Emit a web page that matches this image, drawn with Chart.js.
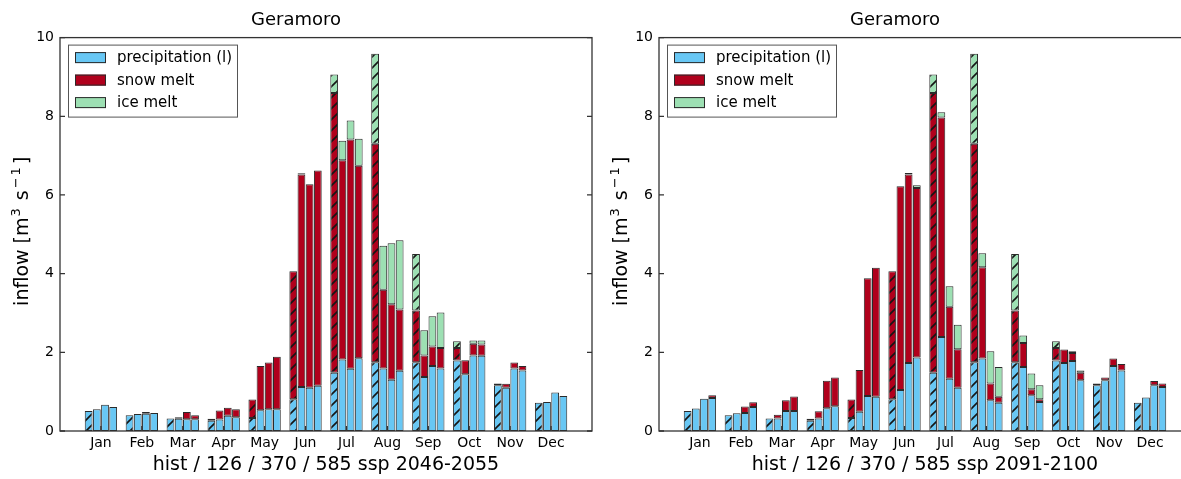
<!DOCTYPE html>
<html>
<head>
<meta charset="utf-8">
<script src="https://cdn.jsdelivr.net/npm/chart.js@4.4.1/dist/chart.umd.min.js"></script>
<style>
  html, body { margin: 0; padding: 0; background: #fff; overflow: hidden; width: 1181px; height: 479px; }
  canvas { position: absolute; top: 0; }
  #left { left: 0; }
  #right { left: 599px; }
</style>
</head>
<body>
<canvas id="left" width="600" height="479"></canvas>
<canvas id="right" width="600" height="479"></canvas>
<script>
const months = ['Jan', 'Feb', 'Mar', 'Apr', 'May', 'Jun', 'Jul', 'Aug', 'Sep', 'Oct', 'Nov', 'Dec']

// historical run (same in both panels)
const precipHist = [0.51, 0.40, 0.32, 0.26, 0.33, 0.81, 1.48, 1.75, 1.75, 1.79, 1.16, 0.72]
const snowHist   = [0, 0, 0, 0.05, 0.47, 3.25, 7.11, 5.55, 1.31, 0.32, 0.05, 0]
const iceHist    = [0, 0, 0, 0, 0, 0, 0.47, 2.29, 1.44, 0.17, 0, 0]

// ssp 2046-2055
const precip126a = [0.55, 0.43, 0.31, 0.29, 0.53, 1.12, 1.82, 1.59, 1.37, 1.44, 1.10, 0.74]
const snow126a   = [0, 0, 0.04, 0.23, 1.12, 5.40, 5.06, 2.00, 0.55, 0.36, 0.10, 0]
const ice126a    = [0, 0, 0, 0, 0, 0.03, 0.50, 1.12, 0.64, 0, 0, 0]
const precip370a = [0.67, 0.44, 0.30, 0.39, 0.55, 1.10, 1.58, 1.30, 1.65, 1.92, 1.59, 0.98]
const snow370a   = [0, 0.04, 0.18, 0.20, 1.19, 5.17, 5.83, 1.92, 0.50, 0.30, 0.15, 0]
const ice370a    = [0, 0, 0, 0, 0, 0, 0.48, 1.55, 0.77, 0.08, 0, 0]
const precip585a = [0.61, 0.46, 0.30, 0.35, 0.55, 1.15, 1.85, 1.53, 1.59, 1.91, 1.54, 0.89]
const snow585a   = [0, 0, 0.10, 0.20, 1.34, 5.47, 4.89, 1.56, 0.52, 0.29, 0.11, 0]
const ice585a    = [0, 0, 0, 0, 0, 0, 0.69, 1.76, 0.90, 0.10, 0, 0]

// ssp 2091-2100
const precip126b = [0.57, 0.45, 0.32, 0.32, 0.49, 1.04, 2.39, 1.84, 1.63, 1.73, 1.29, 0.85]
const snow126b   = [0, 0, 0.09, 0.18, 1.06, 5.18, 5.58, 2.32, 0.61, 0.34, 0.07, 0]
const ice126b    = [0, 0, 0, 0, 0, 0, 0.13, 0.36, 0.19, 0, 0, 0]
const precip370b = [0.82, 0.46, 0.51, 0.58, 0.89, 1.73, 1.33, 0.78, 0.91, 1.78, 1.65, 1.16]
const snow370b   = [0, 0.16, 0.27, 0.70, 2.99, 4.79, 1.83, 0.43, 0.15, 0.20, 0.19, 0.11]
const ice370b    = [0, 0, 0, 0, 0, 0.04, 0.52, 0.82, 0.40, 0.05, 0, 0]
const precip585b = [0.84, 0.61, 0.51, 0.63, 0.87, 1.87, 1.10, 0.72, 0.74, 1.29, 1.54, 1.12]
const snow585b   = [0.07, 0.12, 0.37, 0.73, 3.28, 4.31, 0.98, 0.15, 0.07, 0.19, 0.16, 0.09]
const ice585b    = [0, 0, 0, 0, 0, 0.07, 0.62, 0.76, 0.35, 0.06, 0, 0]

const FONT = '"DejaVu Sans", "Liberation Sans", sans-serif'
const colors = { precip: '#68c7f4', snow: '#b0001c', ice: '#9de0b3' }
const edge = '#2a2a2a'
const offsets = [-0.3, -0.1, 0.1, 0.3]

function hatch(ctx, color) {
    const c = document.createElement('canvas')
    c.width = 11
    c.height = 11
    const g = c.getContext('2d')
    g.fillStyle = color
    g.fillRect(0, 0, 11, 11)
    g.strokeStyle = '#151515'
    g.lineWidth = 1.6
    g.beginPath()
    g.moveTo(-2, 13); g.lineTo(13, -2)
    g.moveTo(-2, 2); g.lineTo(2, -2)
    g.moveTo(9, 13); g.lineTo(13, 9)
    g.stroke()
    return ctx.createPattern(c, 'repeat')
}

function points(series) {
    const out = []
    months.forEach((m, i) => {
        series.forEach((arr, k) => {
            out.push({ x: i + 1 + offsets[k], y: arr[i] ? arr[i] : null })
        })
    })
    return out
}

function fills(ctx, color) {
    const pat = hatch(ctx, color)
    return months.flatMap(() => [pat, color, color, color])
}

const framePlugin = {
    id: 'frame_and_legend',
    afterDatasetsDraw: (chart) => {
        const { ctx, chartArea: a, scales: { x, y } } = chart
        ctx.save()
        ctx.strokeStyle = '#333'
        ctx.lineWidth = 1.3
        ctx.strokeRect(a.left, a.top, a.right - a.left, a.bottom - a.top)
        ctx.beginPath()
        for (const t of y.ticks) {
            const py = y.getPixelForValue(t.value)
            ctx.moveTo(a.left, py); ctx.lineTo(a.left + 5, py)
            ctx.moveTo(a.right, py); ctx.lineTo(a.right - 5, py)
        }
        for (const t of x.ticks) {
            const px = x.getPixelForValue(t.value)
            ctx.moveTo(px, a.bottom); ctx.lineTo(px, a.bottom - 5)
        }
        ctx.stroke()

        // legend box, upper left
        const bx = a.left + 8, by = a.top + 7
        ctx.fillStyle = '#fff'
        ctx.fillRect(bx, by, 169, 72)
        ctx.strokeStyle = '#555'
        ctx.lineWidth = 1
        ctx.strokeRect(bx + 0.5, by + 0.5, 169, 72)
        ctx.font = '15px ' + FONT
        ctx.textBaseline = 'middle'
        chart.data.datasets.forEach((ds, i) => {
            const cy = by + 13 + i * 22.5
            ctx.fillStyle = ds.legendColor
            ctx.fillRect(bx + 7, cy - 5.5, 31, 11)
            ctx.strokeStyle = edge
            ctx.strokeRect(bx + 7.5, cy - 5, 30, 10)
            ctx.fillStyle = '#000'
            ctx.fillText(ds.label, bx + 49, cy + 1)
        })
        ctx.restore()
    }
}

// y label with real superscripts, like the mathtext one
const ylabelPlugin = {
    id: 'ylabel',
    afterDraw: (chart) => {
        const { ctx, chartArea: a } = chart
        const parts = [
            { t: 'inflow [m', size: 19, rise: 0, gap: 0 },
            { t: '3', size: 13, rise: 8, gap: 1 },
            { t: ' s', size: 19, rise: 0, gap: 2 },
            { t: '\u2212', size: 13, rise: 8, gap: 2 },
            { t: '1', size: 13, rise: 8, gap: 2 },
            { t: ']', size: 19, rise: 0, gap: 3 },
        ]
        ctx.save()
        let total = 0
        for (const p of parts) {
            ctx.font = p.size + 'px ' + FONT
            p.w = ctx.measureText(p.t).width
            total += p.gap + p.w
        }
        ctx.translate(28, (a.top + a.bottom) / 2 - 3)
        ctx.rotate(-Math.PI / 2)
        ctx.fillStyle = '#000'
        ctx.textBaseline = 'alphabetic'
        let u = -total / 2
        for (const p of parts) {
            u += p.gap
            ctx.font = p.size + 'px ' + FONT
            ctx.fillText(p.t, u, -p.rise)
            u += p.w
        }
        ctx.restore()
    }
}

function makeChart(id, subtitle, p, s, ic) {
    const canvas = document.getElementById(id)
    const ctx = canvas.getContext('2d')
    const barStyle = { borderColor: edge, borderWidth: 1, borderSkipped: false, barPercentage: 0.95, categoryPercentage: 1 }
    return new Chart(ctx, {
        type: 'bar',
        data: {
            datasets: [
                { label: 'precipitation (l)', data: points(p), backgroundColor: fills(ctx, colors.precip), legendColor: colors.precip, ...barStyle },
                { label: 'snow melt', data: points(s), backgroundColor: fills(ctx, colors.snow), legendColor: colors.snow, ...barStyle },
                { label: 'ice melt', data: points(ic), backgroundColor: fills(ctx, colors.ice), legendColor: colors.ice, ...barStyle },
            ]
        },
        options: {
            responsive: false,
            animation: false,
            devicePixelRatio: 1,
            layout: { padding: { left: 0, right: 8, top: 0, bottom: 0 } },
            plugins: {
                legend: { display: false },
                tooltip: { enabled: false },
                title: {
                    display: true, text: 'Geramoro', color: '#000',
                    font: { family: FONT, size: 18, weight: 'normal' },
                    padding: { top: 10, bottom: 6 }
                }
            },
            scales: {
                x: {
                    type: 'linear', stacked: true, min: 0, max: 13, offset: false,
                    afterBuildTicks: (axis) => { axis.ticks = months.map((m, i) => ({ value: i + 1 })) },
                    afterFit: (axis) => { axis.height = 48 },
                    ticks: {
                        callback: (v) => months[v - 1], autoSkip: false, maxRotation: 0,
                        color: '#000', padding: 4, font: { family: FONT, size: 14 }
                    },
                    grid: { display: false, drawTicks: false },
                    border: { display: false },
                    title: {
                        display: true, text: subtitle, color: '#000',
                        font: { family: FONT, size: 19 }, padding: { top: 0, bottom: 3 }
                    }
                },
                y: {
                    stacked: true, min: 0, max: 10,
                    afterFit: (axis) => { axis.width = 60 },
                    ticks: { stepSize: 2, color: '#000', padding: 6, font: { family: FONT, size: 14 } },
                    grid: { display: false, drawTicks: false },
                    border: { display: false },
                    title: { display: false }
                }
            }
        },
        plugins: [framePlugin, ylabelPlugin]
    })
}

makeChart('left', 'hist / 126 / 370 / 585 ssp 2046-2055',
    [precipHist, precip126a, precip370a, precip585a],
    [snowHist, snow126a, snow370a, snow585a],
    [iceHist, ice126a, ice370a, ice585a])

makeChart('right', 'hist / 126 / 370 / 585 ssp 2091-2100',
    [precipHist, precip126b, precip370b, precip585b],
    [snowHist, snow126b, snow370b, snow585b],
    [iceHist, ice126b, ice370b, ice585b])
</script>
</body>
</html>
